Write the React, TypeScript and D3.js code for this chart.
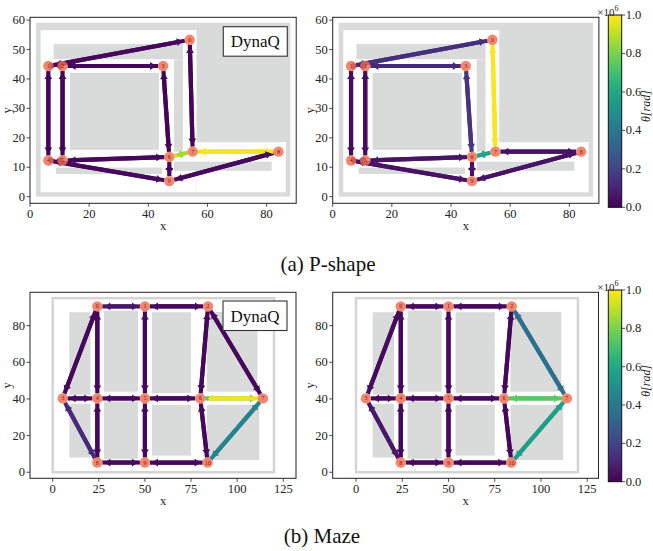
import React, { useEffect, useRef } from "react";
import * as d3 from "d3";

// P-shape graph
const pNodes: [number, number][] = [
  [54, 53.3], [6.2, 44.4], [11, 44.4], [45, 44.4], [6.2, 12.3],
  [11, 12.3], [47.1, 13.5], [55, 15.3], [84, 15.3], [47.1, 5.3],
];
const pEdges: [number, number][] = [
  [0, 1], [1, 2], [2, 3], [1, 4], [2, 5], [4, 5], [5, 6],
  [3, 6], [4, 9], [6, 9], [0, 7], [6, 7], [7, 8], [8, 9],
];
const pDynaFwd = [0.02, 0.01, 0.02, 0.01, 0.01, 0.01, 0.02, 0.01, 0.02, 0.02, 0.01, 0.93, 0.97, 0.02];
const pDynaBwd = [0.02, 0.01, 0.02, 0.01, 0.01, 0.01, 0.02, 0.01, 0.02, 0.02, 0.01, 0.86, 0.98, 0.02];
const pOursFwd = [0.13, 0.05, 0.12, 0.03, 0.03, 0.04, 0.05, 0.15, 0.05, 0.05, 0.99, 0.58, 0.05, 0.05];
const pOursBwd = [0.13, 0.05, 0.12, 0.03, 0.03, 0.04, 0.05, 0.15, 0.05, 0.05, 0.99, 0.58, 0.05, 0.05];

// Maze graph
const mNodes: [number, number][] = [
  [24.2, 90.5], [50, 90.5], [84.2, 90.5], [5.4, 40.3], [24.2, 40.3], [50, 40.3],
  [80, 40.3], [114, 40.3], [24.2, 5.3], [50, 5.3], [84, 5.3],
];
const mEdges: [number, number][] = [
  [0, 1], [1, 2], [0, 3], [0, 4], [3, 4], [4, 5], [5, 6], [1, 5], [4, 8],
  [3, 8], [8, 9], [9, 10], [5, 9], [2, 6], [6, 10], [2, 7], [6, 7], [7, 10],
];
const mDynaFwd = [0.06, 0.02, 0.02, 0.02, 0.02, 0.02, 0.02, 0.02, 0.02, 0.12, 0.02, 0.02, 0.02, 0.02, 0.02, 0.02, 0.72, 0.45];
const mDynaBwd = [0.06, 0.02, 0.02, 0.02, 0.02, 0.02, 0.02, 0.02, 0.02, 0.12, 0.02, 0.02, 0.02, 0.02, 0.02, 0.02, 0.98, 0.45];
const mOursFwd = [0.03, 0.02, 0.03, 0.02, 0.02, 0.02, 0.02, 0.02, 0.02, 0.06, 0.02, 0.02, 0.02, 0.02, 0.02, 0.36, 0.74, 0.56];
const mOursBwd = [0.03, 0.02, 0.03, 0.02, 0.02, 0.02, 0.02, 0.02, 0.02, 0.06, 0.02, 0.02, 0.02, 0.02, 0.02, 0.36, 0.74, 0.56];

// environments: [x0, x1, y0, y1] in map units
const pOuter = [2, 88, 0, 59.1];
const pFree = [[3.6, 56.3, 1.5, 56.6], [56.3, 86.5, 1.5, 18.5]];
const pBlocks = [
  [8, 51.7, 46.7, 51.9], [48.7, 51.7, 15.3, 46.7], [13.5, 43.6, 15.9, 42.1],
  [8.8, 44.7, 7.7, 9.9], [48.7, 81.7, 8.8, 11.9],
];
const mOutline = [0, 120, 0, 95];
const mBlocks = [
  [9, 20.5, 42.3, 87.3], [9, 20.5, 8, 37.3], [27.8, 46.3, 44, 88.2], [27.8, 46.3, 7.3, 38.6],
  [53.8, 75, 43.2, 87.3], [53.8, 75, 9.1, 36.8], [83.5, 111, 44, 87.5], [83.5, 112, 6.7, 36.8],
];

const pXTicks = [0, 20, 40, 60, 80];
const pYTicks = [0, 10, 20, 30, 40, 50, 60];
const mXTicks = [0, 25, 50, 75, 100, 125];
const mYTicks = [0, 20, 40, 60, 80];
const cbTicks = [0, 0.2, 0.4, 0.6, 0.8, 1.0];

const SERIF = "'Liberation Serif', 'DejaVu Serif', serif";
const GREY = "#d9dbda";

function drawPanel(svg, o) {
  const g = svg.append("g");
  const x = d3.scaleLinear().domain(o.xDomain).range([o.left, o.right]);
  const y = d3.scaleLinear().domain(o.yDomain).range([o.bottom, o.top]);
  const rect = (r, fill) =>
    g.append("rect")
      .attr("x", x(r[0])).attr("y", y(r[3]))
      .attr("width", x(r[1]) - x(r[0])).attr("height", y(r[2]) - y(r[3]))
      .attr("fill", fill);

  if (o.env === "p") {
    rect(pOuter, GREY);
    pFree.forEach(r => rect(r, "#fff"));
    pBlocks.forEach(r => rect(r, GREY));
  } else {
    mBlocks.forEach(r => rect(r, GREY));
    rect(mOutline, "none").attr("stroke", "#d4d4d4").attr("stroke-width", 2.5);
  }

  // arrows, forward then backward
  const drawArrow = (a, b, v) => {
    const [x1, y1] = [x(o.nodes[a][0]), y(o.nodes[a][1])];
    const [x2, y2] = [x(o.nodes[b][0]), y(o.nodes[b][1])];
    const dx = x2 - x1, dy = y2 - y1, len = Math.hypot(dx, dy);
    const ux = dx / len, uy = dy / len;
    const tipD = len - 7, headL = 6, hw = 3.9;
    const tx = x1 + ux * tipD, ty = y1 + uy * tipD;
    const bx = tx - ux * headL, by = ty - uy * headL;
    const c = d3.interpolateViridis(v);
    g.append("line")
      .attr("x1", x1 + ux * 5).attr("y1", y1 + uy * 5)
      .attr("x2", bx + ux * 1).attr("y2", by + uy * 1)
      .attr("stroke", c).attr("stroke-width", 4.2);
    g.append("path")
      .attr("d", `M${tx},${ty}L${bx - uy * hw},${by + ux * hw}L${bx + uy * hw},${by - ux * hw}Z`)
      .attr("fill", c);
  };
  o.edges.forEach((e, i) => drawArrow(e[0], e[1], o.fwd[i]));
  o.edges.forEach((e, i) => drawArrow(e[1], e[0], o.bwd[i]));

  o.nodes.forEach((n, i) => {
    g.append("circle").attr("cx", x(n[0])).attr("cy", y(n[1])).attr("r", 5.2)
      .attr("fill", "#f26b4f").attr("fill-opacity", 0.82);
    g.append("text").attr("x", x(n[0])).attr("y", y(n[1]) + 2)
      .attr("text-anchor", "middle").attr("font-size", 6).attr("font-family", SERIF)
      .attr("fill", "#6a1d10").text(i);
  });

  // frame
  g.append("rect").attr("x", o.left).attr("y", o.top)
    .attr("width", o.right - o.left).attr("height", o.bottom - o.top)
    .attr("fill", "none").attr("stroke", "#222").attr("stroke-width", 1);

  const fs = 12.5;
  o.xTicks.forEach(t => {
    g.append("line").attr("x1", x(t)).attr("x2", x(t)).attr("y1", o.bottom).attr("y2", o.bottom + 3.5)
      .attr("stroke", "#222").attr("stroke-width", 0.8);
    g.append("text").attr("x", x(t)).attr("y", o.bottom + 15).attr("text-anchor", "middle")
      .attr("font-size", fs).attr("font-family", SERIF).attr("fill", "#222").text(t);
  });
  o.yTicks.forEach(t => {
    g.append("line").attr("x1", o.left - 3.5).attr("x2", o.left).attr("y1", y(t)).attr("y2", y(t))
      .attr("stroke", "#222").attr("stroke-width", 0.8);
    g.append("text").attr("x", o.left - 5).attr("y", y(t) + 4).attr("text-anchor", "end")
      .attr("font-size", fs).attr("font-family", SERIF).attr("fill", "#222").text(t);
  });
  g.append("text").attr("x", (o.left + o.right) / 2).attr("y", o.bottom + 27)
    .attr("text-anchor", "middle").attr("font-size", fs).attr("font-family", SERIF)
    .attr("fill", "#222").text("x");
  g.append("text").attr("transform", `translate(${o.left - 19},${(o.top + o.bottom) / 2}) rotate(-90)`)
    .attr("text-anchor", "middle").attr("font-size", fs).attr("font-family", SERIF)
    .attr("fill", "#222").text("y");

  if (o.legend) {
    const [lx, ly] = o.legend;
    g.append("rect").attr("x", lx).attr("y", ly).attr("width", 64).attr("height", 29.5)
      .attr("fill", "#fff").attr("stroke", "#333").attr("stroke-width", 1.1);
    g.append("text").attr("x", lx + 32).attr("y", ly + 20.5).attr("text-anchor", "middle")
      .attr("font-size", 17).attr("font-family", SERIF).attr("fill", "#111").text("DynaQ");
  }

  if (o.cb) {
    const { cx, cy0, cy1, id } = o.cb;
    const cw = 13.4;
    const grad = svg.append("defs").append("linearGradient").attr("id", id)
      .attr("x1", 0).attr("y1", 1).attr("x2", 0).attr("y2", 0);
    d3.range(0, 1.0001, 0.05).forEach(t =>
      grad.append("stop").attr("offset", t).attr("stop-color", d3.interpolateViridis(t)));
    const cyScale = d3.scaleLinear().domain([0, 1]).range([cy1, cy0]);
    g.append("rect").attr("x", cx).attr("y", cy0).attr("width", cw).attr("height", cy1 - cy0)
      .attr("fill", `url(#${id})`).attr("stroke", "#111").attr("stroke-width", 1);
    cbTicks.forEach(t => {
      g.append("line").attr("x1", cx + cw).attr("x2", cx + cw + 3.5)
        .attr("y1", cyScale(t)).attr("y2", cyScale(t)).attr("stroke", "#222").attr("stroke-width", 0.8);
      g.append("text").attr("x", cx + cw + 4).attr("y", cyScale(t) + 4)
        .attr("font-size", fs).attr("font-family", SERIF).attr("fill", "#222").text(t.toFixed(1));
    });
    const sci = g.append("text").attr("x", cx - 11).attr("y", cy0 + 1)
      .attr("font-size", 11).attr("font-family", SERIF).attr("fill", "#222");
    sci.append("tspan").text("×10");
    sci.append("tspan").attr("dy", -5).attr("font-size", 8).text("6");
    g.append("text").attr("transform", `translate(${cx + cw + 28},${(cy0 + cy1) / 2 - 5}) rotate(-90)`)
      .attr("text-anchor", "middle").attr("font-size", 12).attr("font-family", SERIF)
      .attr("font-style", "italic").attr("fill", "#222").text("θ[rad]");
  }
}

export default function App() {
  const ref = useRef<SVGSVGElement>(null);

  useEffect(() => {
    const svg = d3.select(ref.current);
    svg.selectAll("*").remove();

    const pTop = { top: 17.3, bottom: 203.3, yDomain: [-2.25, 60.95], xTicks: pXTicks, yTicks: pYTicks, env: "p", nodes: pNodes, edges: pEdges };
    drawPanel(svg, { ...pTop, left: 30, right: 296.2, xDomain: [0, 90], fwd: pDynaFwd, bwd: pDynaBwd, legend: [223.3, 26.7] });
    drawPanel(svg, { ...pTop, left: 332.7, right: 598.9, xDomain: [0, 90], fwd: pOursFwd, bwd: pOursBwd, cb: { cx: 608.3, cy0: 15, cy1: 207.3, id: "cbA" } });

    const mTop = { top: 292.3, bottom: 478.3, yDomain: [-3.3, 98.2], xTicks: mXTicks, yTicks: mYTicks, env: "m", nodes: mNodes, edges: mEdges };
    drawPanel(svg, { ...mTop, left: 30, right: 296, xDomain: [-12.3, 131.9], fwd: mDynaFwd, bwd: mDynaBwd, legend: [223, 301] });
    drawPanel(svg, { ...mTop, left: 332.7, right: 598.5, xDomain: [-12.6, 131.1], fwd: mOursFwd, bwd: mOursBwd, cb: { cx: 608.3, cy0: 290, cy1: 481.7, id: "cbB" } });

    svg.append("text").attr("x", 328).attr("y", 271).attr("text-anchor", "middle")
      .attr("font-size", 21).attr("font-family", SERIF).attr("fill", "#111").text("(a) P-shape");
    svg.append("text").attr("x", 322).attr("y", 543).attr("text-anchor", "middle")
      .attr("font-size", 21).attr("font-family", SERIF).attr("fill", "#111").text("(b) Maze");
  }, []);

  return (
    <svg ref={ref} width={653} height={551}
      style={{ position: "absolute", left: 0, top: 0, background: "#fff" }} />
  );
}
